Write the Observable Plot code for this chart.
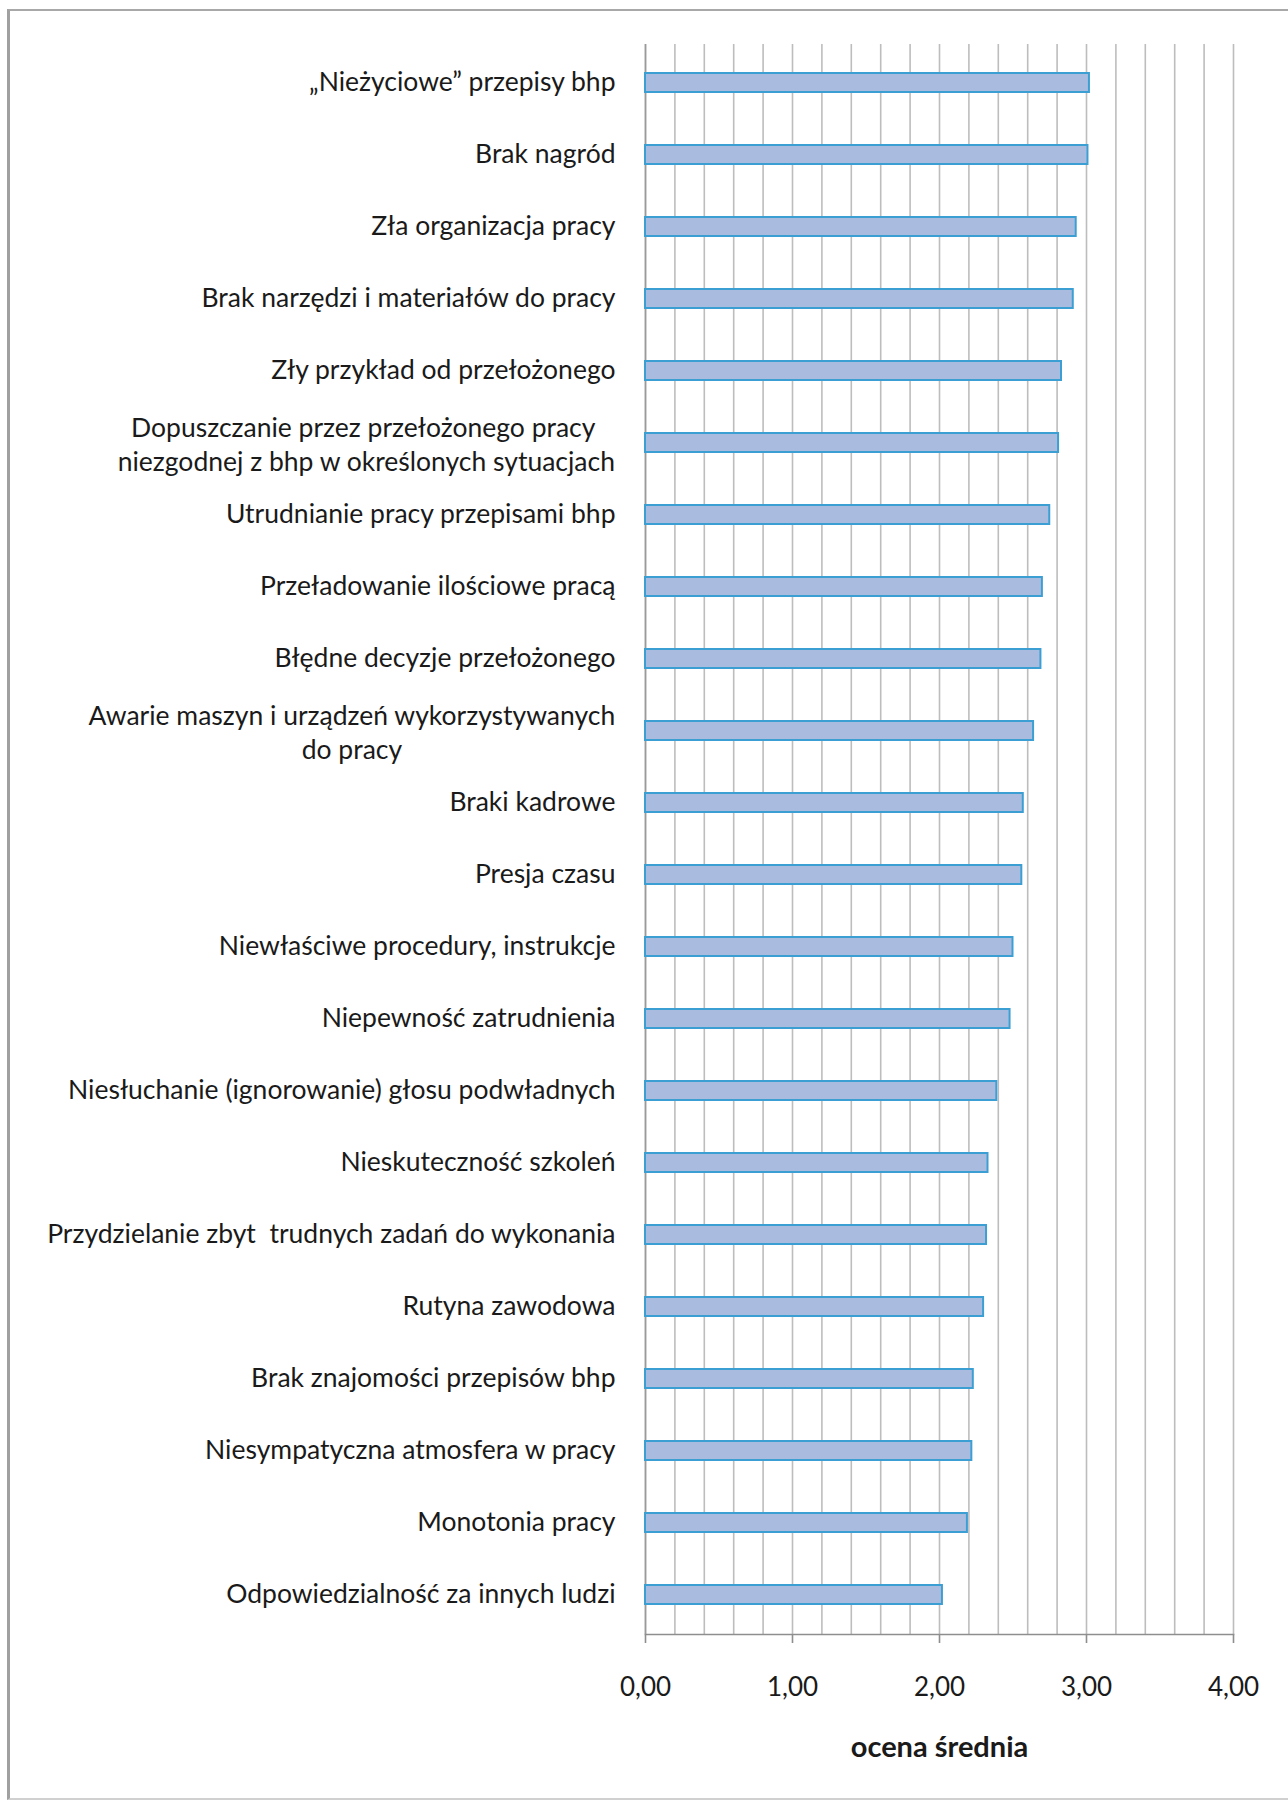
<!DOCTYPE html>
<html>
<head>
<meta charset="utf-8">
<script src="https://cdn.jsdelivr.net/npm/d3@7"></script>
<script src="https://cdn.jsdelivr.net/npm/@observablehq/plot@0.6"></script>
<style>
  html, body { margin: 0; padding: 0; background: #ffffff; overflow: hidden; }
  #wrap { position: relative; width: 1288px; height: 1801px; overflow: hidden; }
  #frame { position: absolute; left: 7px; top: 9px; right: 0; height: 1791px;
           border-top: 2px solid #a8a8a8; border-bottom: 2px solid #d0d0d0; border-left: 3px solid #a0a0a0;
           box-sizing: border-box; pointer-events: none; }
</style>
</head>
<body>
<div id="wrap"><div id="chart"></div><div id="frame"></div></div>
<script>
const categories = [
  "„Nieżyciowe” przepisy bhp",
  "Brak nagród",
  "Zła organizacja pracy",
  "Brak narzędzi i materiałów do pracy",
  "Zły przykład od przełożonego",
  "Dopuszczanie przez przełożonego pracy \nniezgodnej z bhp w określonych sytuacjach",
  "Utrudnianie pracy przepisami bhp",
  "Przeładowanie ilościowe pracą",
  "Błędne decyzje przełożonego",
  "Awarie maszyn i urządzeń wykorzystywanych\ndo pracy",
  "Braki kadrowe",
  "Presja czasu",
  "Niewłaściwe procedury, instrukcje",
  "Niepewność zatrudnienia",
  "Niesłuchanie (ignorowanie) głosu podwładnych",
  "Nieskuteczność szkoleń",
  "Przydzielanie zbyt  trudnych zadań do wykonania",
  "Rutyna zawodowa",
  "Brak znajomości przepisów bhp",
  "Niesympatyczna atmosfera w pracy",
  "Monotonia pracy",
  "Odpowiedzialność za innych ludzi"
];
const values = [3.02, 3.01, 2.93, 2.91, 2.83, 2.81, 2.75, 2.70, 2.69, 2.64, 2.57,
                2.56, 2.50, 2.48, 2.39, 2.33, 2.32, 2.30, 2.23, 2.22, 2.19, 2.02];
const xTicks = [0, 1, 2, 3, 4];
const axisTitle = "ocena średnia";

const data = categories.map((category, i) => ({category, value: values[i]}));
const multi = data.filter(d => d.category.includes("\n"));
const fmt = d => d.toFixed(2).replace(".", ",");

const FONT = "Lato, 'Open Sans', sans-serif";
const LABEL_SIZE = 26.5;
const LABEL_GAP = 30;
const ctx = document.createElement("canvas").getContext("2d");
ctx.font = `${LABEL_SIZE}px Lato`;
const lineWidth = s => Math.max(...s.split("\n").map(l => ctx.measureText(l).width));

const W = 1288, H = 1801;
const plot = Plot.plot({
  width: W,
  height: H,
  marginLeft: 645,
  marginRight: 55,
  marginTop: 44,
  marginBottom: H - 1634,
  style: {fontFamily: FONT, color: "#1a1a1a", background: "transparent", overflow: "visible"},
  x: {domain: [0, 4]},
  y: {domain: categories, paddingInner: 0.735, paddingOuter: 0.3675},
  marks: [
    Plot.gridX({ticks: 20, stroke: "#bdbdbd", strokeOpacity: 1, strokeWidth: 1.6}),
    Plot.ruleX([0], {stroke: "#9a9a9a", strokeWidth: 1.6}),
    Plot.frame({anchor: "bottom", stroke: "#8e8e8e", strokeWidth: 1.6}),
    Plot.barX(data, {x: "value", y: "category", fill: "#aabbe0", stroke: "#3c9fd3", strokeWidth: 2}),
    Plot.axisX({ticks: xTicks, tickFormat: fmt, tickSize: 9, tickPadding: 34, fontSize: 26,
                stroke: "#8e8e8e", strokeWidth: 1.6, label: null}),
    Plot.axisY({tickSize: 0, tickPadding: LABEL_GAP, fontSize: LABEL_SIZE, label: null,
                tickFormat: d => d.includes("\n") ? "" : d}),
    ...multi.map(d => Plot.text([d], {
      y: "category", text: "category", frameAnchor: "left", textAnchor: "middle",
      dx: -(LABEL_GAP + lineWidth(d.category) / 2), fontSize: LABEL_SIZE, lineHeight: 1.3, fill: "#1a1a1a"
    })),
    Plot.text([axisTitle], {frameAnchor: "bottom", dy: 122, fontSize: 29, fontWeight: "bold", fill: "#1a1a1a"})
  ]
});
document.getElementById("chart").appendChild(plot);
</script>
</body>
</html>
